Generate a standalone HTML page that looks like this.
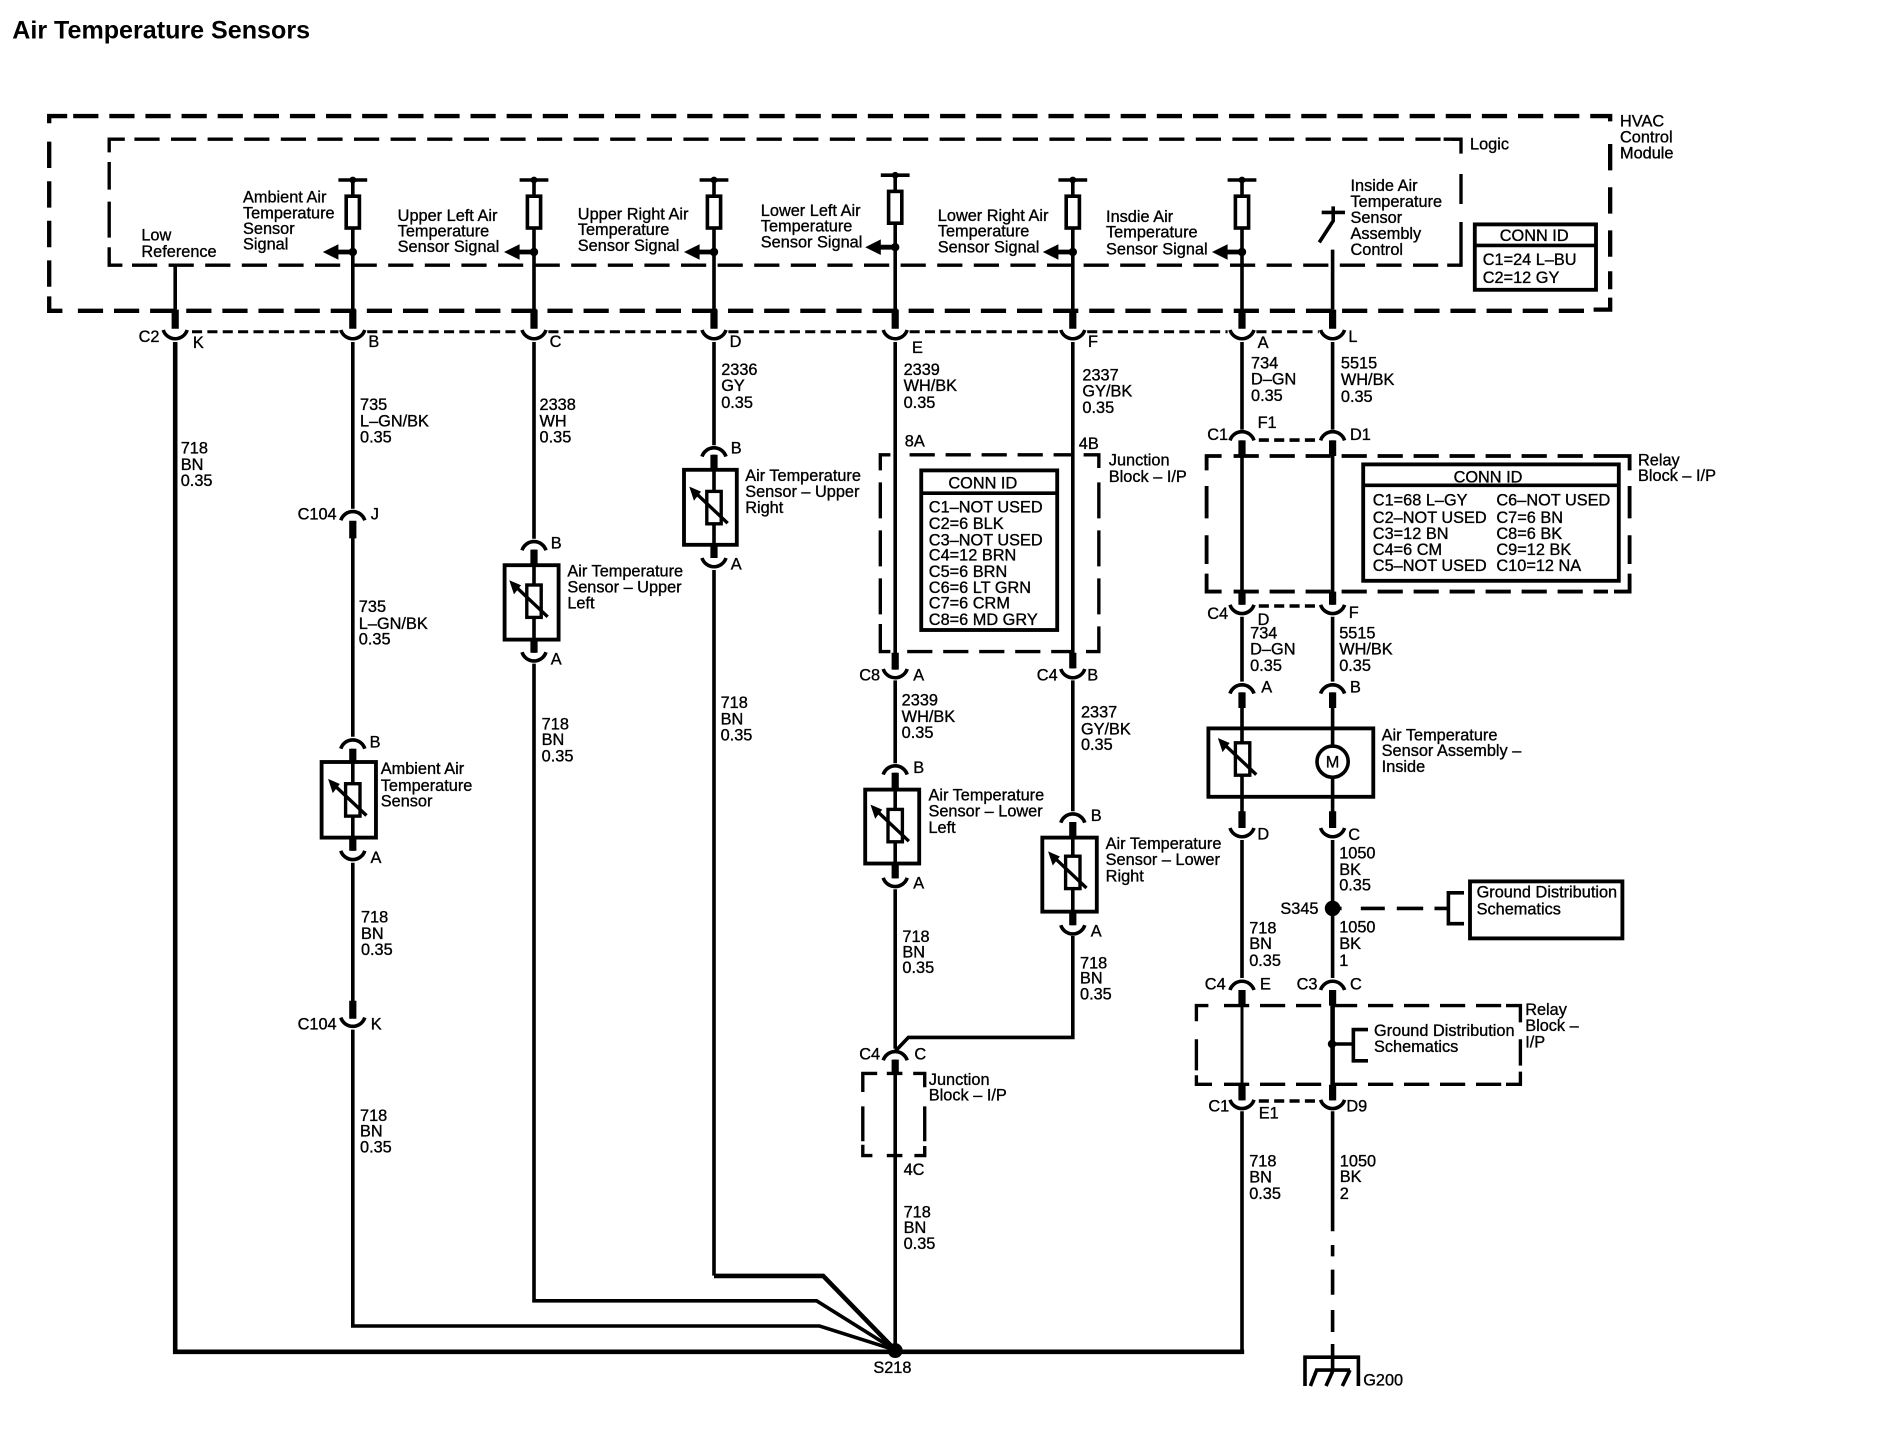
<!DOCTYPE html>
<html><head><meta charset="utf-8"><title>Air Temperature Sensors</title>
<style>
html,body{margin:0;padding:0;background:#fff}
svg{display:block}
text{font-family:"Liberation Sans",sans-serif;font-size:13.6px;fill:#000;stroke:#000;stroke-width:.28}
.w{stroke:#000;stroke-width:3;fill:none}
.s{stroke:#000;stroke-width:6;fill:none}
.b{stroke:#000;stroke-width:3.2;fill:#fff}
.o{stroke:#000;stroke-width:3.6;fill:none}
.i{stroke:#000;stroke-width:2.8;fill:none}
.r{stroke:#000;stroke-width:2.5;fill:none;stroke-dasharray:8.4 4.4}
.c{stroke:#000;stroke-width:3;fill:none}
</style></head><body>
<svg xmlns="http://www.w3.org/2000/svg" width="1884" height="1440" viewBox="0 0 1570 1200">
<defs>
<path id="u" class="c" d="M-10 0A10.5 10.5 0 0 0 10 0"/>
<path id="n" class="c" d="M-10 10A10.5 10.5 0 0 1 10 10"/>
<g id="sig"><path class="w" d="M-12 0H12"/><circle cx="0" cy="0" r="2.8"/><rect class="b" style="stroke-width:3" x="-5.5" y="13.5" width="11" height="26.5"/><circle cx="0" cy="60" r="3.5"/><path class="s" style="stroke-width:4" d="M0 60H-14"/><path d="M-25 60L-12 53.5V66.5Z"/></g>
<g id="res"><rect class="b" style="stroke-width:2.8" x="-6" y="-13.500" width="12" height="27"/><path class="w" style="stroke-width:2.8" d="M11.400 13L-14 -11"/><path d="M-20.600 -17.500L-10.800 -13.300L-16.700 -5.700Z"/></g>
</defs>
<rect width="1570" height="1200" fill="#fff"/>

<text x="10.2" y="32" style="font-size:20.9px;font-weight:bold;stroke:none">Air Temperature Sensors</text>

<!-- wires -->
<path class="w" d="M146 221V258"/>
<path class="w" style="stroke-width:3.800" d="M146 285V1126.500H1036.800"/>
<path class="w" d="M294 150V258M294 285V424M294 448V614M294 624V709M294 719V835M294 858V1105H683L746 1125"/>
<path class="w" d="M445 150V258M445 285V449M445 458V544M445 553V1084H680.500L746 1125"/>
<path class="w" d="M595 150V258M595 285V371M595 379V465M595 475V1063"/>
<path class="w" style="stroke-width:3.800" d="M595 1063.300H686L746 1125"/>
<path class="w" d="M746 146V258M746 285V558M746 567V636M746 644V732M746 741V874M746 883V1125"/>
<path class="w" d="M894 150V258M894 285V557M894 567V676M894 685V771M894 780V864.5H757L746 876"/>
<path class="w" d="M1035 150V258M1035 285V358M1035 367V504M1035 514V568M1035 577V690M1035 700V815M1035 926V1126"/>
<path class="w" style="stroke-width:2.500" d="M1035 825V917"/>
<path class="w" d="M1110.500 208V258M1110.500 285V358M1110.500 367V504M1110.500 514V568M1110.500 577V690M1110.500 700V815M1110.500 926V1026"/>
<path class="w" style="stroke-width:3.800" d="M1110.500 825V917"/>
<path class="w" d="M1110.500 1037.500V1047M1110.500 1058V1079M1110.500 1091.700V1110M1110.500 1120V1141.700"/>

<!-- stubs -->
<path class="s" d="M146 258V274M294 258V274M445 258V274M595 258V274M746 258V274M894 258V274M1035 258V274M1110.500 258V274"/>
<path class="s" d="M294 434V448.600M294 624V635M294 698V709M294 834V849"/>
<path class="s" d="M445 458V471M445 533V544M595 379V391M595 454V465"/>
<path class="s" d="M746 544V558M894 544V557M746 644V658M746 720V732M894 685V698M894 760V771M746 883V895"/>
<path class="s" d="M1035 367V380M1110.500 367V380M1035 493V504M1110.500 493V504M1035 577V590M1110.500 577V590M1035 676V690M1110.500 676V690M1035 825V838M1110.500 825V838M1035 904V917M1110.500 904V917"/>

<!-- module -->
<path class="o" stroke-dasharray="21 9.1" d="M56 96.700H41V110"/>
<path class="o" d="M41 118V140M41 151V173M41 184V206M41 217V239M41 247V259H52"/>
<path class="o" stroke-dasharray="21 9.1" d="M61 96.700H1341.800V110"/>
<path class="o" d="M1341.800 120V142M1341.800 156V178M1341.800 192V214M1341.800 226V241M1341.800 248V258H1328"/>
<path class="o" stroke-dasharray="21 9.100" d="M1320 259H60"/>

<path class="i" d="M104 116H91V127M91 135V158M91 168V198M91 206V221H102"/>
<path class="i" stroke-dasharray="21 9.500" d="M112 116H1217.500"/>
<path class="i" d="M1203 116H1217.500V128M1217.500 145V170M1217.500 185V215M1217.500 210V221H1206"/>
<path class="i" stroke-dasharray="21 9.500" d="M110 221H1204"/>

<use href="#sig" x="294" y="150"/><use href="#sig" x="445" y="150"/><use href="#sig" x="595" y="150"/>
<use href="#sig" x="746" y="146"/><use href="#sig" x="894" y="150"/><use href="#sig" x="1035" y="150"/>
<path class="w" d="M1101.400 177H1120.800M1111 172V184L1099.400 202"/>

<text x="117.800" y="200.500">Low</text><text x="117.800" y="214">Reference</text>
<text x="202.500" y="168.600">Ambient Air</text><text x="202.500" y="182">Temperature</text><text x="202.500" y="195">Sensor</text><text x="202.500" y="208">Signal</text>
<text x="331.400" y="184">Upper Left Air</text><text x="331.400" y="197">Temperature</text><text x="331.400" y="210">Sensor Signal</text>
<text x="481.500" y="183">Upper Right Air</text><text x="481.500" y="196">Temperature</text><text x="481.500" y="209">Sensor Signal</text>
<text x="634" y="180">Lower Left Air</text><text x="634" y="193">Temperature</text><text x="634" y="206.400">Sensor Signal</text>
<text x="781.500" y="184">Lower Right Air</text><text x="781.500" y="197">Temperature</text><text x="781.500" y="210.600">Sensor Signal</text>
<text x="921.700" y="185">Insdie Air</text><text x="921.700" y="198">Temperature</text><text x="921.700" y="212">Sensor Signal</text>
<text x="1125.400" y="159">Inside Air</text><text x="1125.400" y="172.300">Temperature</text><text x="1125.400" y="185.700">Sensor</text><text x="1125.400" y="199">Assembly</text><text x="1125.400" y="212.500">Control</text>
<text x="1225" y="124.700">Logic</text>
<text x="1350" y="105.400">HVAC</text><text x="1350" y="118.800">Control</text><text x="1350" y="132">Module</text>

<rect class="b" x="1229" y="187" width="101" height="54.500"/><path class="w" d="M1229 204.500H1330"/>
<text x="1278.500" y="201" text-anchor="middle">CONN ID</text>
<text x="1235.600" y="221">C1=24 L–BU</text><text x="1235.600" y="236">C2=12 GY</text>

<!-- connector row -->
<path class="r" d="M160 276.500H282M306 276.500H433M457 276.500H583M607 276.500H734M758 276.500H882M906 276.500H1023M1047 276.500H1099"/>
<use href="#u" x="146" y="275"/><use href="#u" x="294" y="275"/><use href="#u" x="445" y="275"/><use href="#u" x="595" y="275"/><use href="#u" x="746" y="275"/><use href="#u" x="894" y="275"/><use href="#u" x="1035" y="275"/><use href="#u" x="1110.500" y="275"/>
<text x="115.500" y="285">C2</text><text x="160.700" y="290">K</text><text x="307" y="289">B</text><text x="458" y="289">C</text><text x="608" y="289">D</text><text x="760" y="294">E</text><text x="906.700" y="289">F</text><text x="1048" y="290">A</text><text x="1123.600" y="285">L</text>

<!-- wire labels upper -->
<text x="150.600" y="378">718</text><text x="150.600" y="391.700">BN</text><text x="150.600" y="405">0.35</text>
<text x="300" y="341.700">735</text><text x="300" y="355.600">L–GN/BK</text><text x="300" y="368.600">0.35</text>
<text x="449.600" y="341.700">2338</text><text x="449.600" y="355.600">WH</text><text x="449.600" y="368.600">0.35</text>
<text x="601" y="312.500">2336</text><text x="601" y="326">GY</text><text x="601" y="340">0.35</text>
<text x="753" y="312.500">2339</text><text x="753" y="326">WH/BK</text><text x="753" y="340">0.35</text>
<text x="902" y="317">2337</text><text x="902" y="330.500">GY/BK</text><text x="902" y="344">0.35</text>
<text x="1042.500" y="307">734</text><text x="1042.500" y="320.500">D–GN</text><text x="1042.500" y="334">0.35</text>
<text x="1117.400" y="307">5515</text><text x="1117.400" y="321">WH/BK</text><text x="1117.400" y="335">0.35</text>

<!-- column B -->
<use href="#n" x="294" y="423.600"/><text x="248" y="433">C104</text><text x="309" y="433">J</text>
<text x="299" y="510">735</text><text x="299" y="524">L–GN/BK</text><text x="299" y="537">0.35</text>
<use href="#n" x="294" y="613.900"/><text x="308" y="623">B</text>
<rect class="b" x="268" y="635" width="45.300" height="63"/><path class="w" d="M294 635V698"/><use href="#res" x="294" y="666.600"/>
<use href="#u" x="294" y="709"/><text x="308.800" y="719">A</text>
<text x="317.300" y="645">Ambient Air</text><text x="317.300" y="659">Temperature</text><text x="317.300" y="672">Sensor</text>
<text x="300.800" y="768.600">718</text><text x="300.800" y="782.500">BN</text><text x="300.800" y="795.800">0.35</text>
<use href="#u" x="294" y="848"/><text x="248" y="858">C104</text><text x="309" y="858">K</text>
<text x="300" y="934">718</text><text x="300" y="947.200">BN</text><text x="300" y="960.600">0.35</text>

<!-- column C -->
<use href="#n" x="445" y="448.600"/><text x="459" y="457">B</text>
<rect class="b" x="420.500" y="471" width="45" height="62"/><path class="w" d="M445 471V533"/><use href="#res" x="445" y="501"/>
<use href="#u" x="445" y="543.500"/><text x="459" y="553.600">A</text>
<text x="472.800" y="480.500">Air Temperature</text><text x="472.800" y="493.900">Sensor – Upper</text><text x="472.800" y="507">Left</text>
<text x="451.400" y="608">718</text><text x="451.400" y="621">BN</text><text x="451.400" y="634.700">0.35</text>

<!-- column D -->
<use href="#n" x="595" y="370.500"/><text x="609" y="378">B</text>
<rect class="b" x="570" y="391.500" width="44" height="62.500"/><path class="w" d="M595 391.500V454"/><use href="#res" x="595" y="423"/>
<use href="#u" x="595" y="465"/><text x="609" y="474.500">A</text>
<text x="621" y="401">Air Temperature</text><text x="621" y="414">Sensor – Upper</text><text x="621" y="427.500">Right</text>
<text x="600.500" y="590">718</text><text x="600.500" y="603.600">BN</text><text x="600.500" y="617">0.35</text>

<!-- junction block upper -->
<path class="i" d="M742 379H733.600V392M733.600 402V432M733.600 442V472M733.600 482V512M733.600 520V543H742"/>
<path class="i" stroke-dasharray="21 9" d="M758 379H894"/>
<path class="i" d="M903 379H915.700V390M915.700 402V432M915.700 442V472M915.700 482V512M915.700 522V543H905"/>
<path class="i" stroke-dasharray="21 9" d="M756 543H894"/>
<text x="754" y="372">8A</text><text x="899" y="374">4B</text>
<text x="924" y="388">Junction</text><text x="924" y="401.500">Block – I/P</text>
<rect class="b" x="767.700" y="392" width="113.300" height="133"/><path class="w" d="M767.700 411H881"/>
<text x="819" y="407" text-anchor="middle">CONN ID</text>
<text x="774" y="427">C1–NOT USED</text><text x="774" y="441">C2=6 BLK</text><text x="774" y="454.500">C3–NOT USED</text><text x="774" y="467">C4=12 BRN</text><text x="774" y="481">C5=6 BRN</text><text x="774" y="494">C6=6 LT GRN</text><text x="774" y="507">C7=6 CRM</text><text x="774" y="521">C8=6 MD GRY</text>

<!-- column E -->
<use href="#u" x="746" y="557.500"/><text x="716" y="567">C8</text><text x="761" y="567">A</text>
<text x="751.400" y="588">2339</text><text x="751.400" y="601.700">WH/BK</text><text x="751.400" y="615">0.35</text>
<use href="#n" x="746" y="635.500"/><text x="761" y="644">B</text>
<rect class="b" x="721" y="658" width="45" height="61.600"/><path class="w" d="M746 658V720"/><use href="#res" x="746" y="688"/>
<use href="#u" x="746" y="731.500"/><text x="761" y="740.500">A</text>
<text x="773.700" y="667">Air Temperature</text><text x="773.700" y="680.500">Sensor – Lower</text><text x="773.700" y="694">Left</text>
<text x="752" y="785">718</text><text x="752" y="798">BN</text><text x="752" y="811">0.35</text>
<use href="#n" x="746" y="873.600"/><text x="716" y="882.800">C4</text><text x="762" y="882.800">C</text>
<path class="i" d="M731 894.500H719V910M719 922V951M719 954V963H727"/>
<path class="i" d="M739 894.500H752M761 894.500H770.600V906M770.600 922V951M770.600 955V963H762M739 963H752"/>
<text x="774" y="904">Junction</text><text x="774" y="917">Block – I/P</text>
<text x="753" y="979">4C</text>
<text x="753" y="1014.600">718</text><text x="753" y="1027.500">BN</text><text x="753" y="1041">0.35</text>
<circle cx="746" cy="1125.500" r="6.200"/>
<text x="727.800" y="1144">S218</text>

<!-- column F -->
<use href="#u" x="894" y="557.500"/><text x="864" y="567">C4</text><text x="906" y="567">B</text>
<text x="900.800" y="598">2337</text><text x="900.800" y="612">GY/BK</text><text x="900.800" y="625">0.35</text>
<use href="#n" x="894" y="675.600"/><text x="909" y="684">B</text>
<rect class="b" x="868.600" y="698" width="45.400" height="61.700"/><path class="w" d="M894 698V760"/><use href="#res" x="894" y="727"/>
<use href="#u" x="894" y="771"/><text x="909" y="780.500">A</text>
<text x="921.400" y="707.500">Air Temperature</text><text x="921.400" y="721">Sensor – Lower</text><text x="921.400" y="734.500">Right</text>
<text x="900" y="807">718</text><text x="900" y="819.500">BN</text><text x="900" y="833">0.35</text>

<!-- relay block upper -->
<use href="#n" x="1035" y="357"/><use href="#n" x="1110.500" y="357"/>
<path class="r" style="stroke-width:3" d="M1049 366.700H1098"/>
<text x="1006" y="366.700">C1</text><text x="1048" y="356.800">F1</text><text x="1125" y="366.700">D1</text>
<path class="i" style="stroke-width:3.200" d="M1018 380H1005.500V392M1005.500 405V432M1005.500 446V470M1005.500 478V493H1018"/>
<path class="i" style="stroke-width:3.200" stroke-dasharray="21 9" d="M1028 380H1345"/>
<path class="i" style="stroke-width:3.200" d="M1345 380H1358V392M1358 405V432M1358 446V470M1358 478V493H1345"/>
<path class="i" style="stroke-width:3.200" stroke-dasharray="21 9" d="M1028 493H1340"/>
<rect class="b" x="1136" y="387" width="213" height="97"/><path class="w" d="M1136 404.400H1349"/>
<text x="1240" y="402" text-anchor="middle">CONN ID</text>
<text x="1144" y="421.400">C1=68 L–GY</text><text x="1144" y="435.700">C2–NOT USED</text><text x="1144" y="449">C3=12 BN</text><text x="1144" y="462.500">C4=6 CM</text><text x="1144" y="476">C5–NOT USED</text>
<text x="1247" y="421.400">C6–NOT USED</text><text x="1247" y="435.700">C7=6 BN</text><text x="1247" y="449">C8=6 BK</text><text x="1247" y="462.500">C9=12 BK</text><text x="1247" y="476">C10=12 NA</text>
<text x="1365" y="388">Relay</text><text x="1365" y="401">Block – I/P</text>
<use href="#u" x="1035" y="504"/><use href="#u" x="1110.500" y="504"/>
<path class="r" style="stroke-width:3" d="M1049 505H1098"/>
<text x="1006" y="516">C4</text><text x="1048" y="521">D</text><text x="1124" y="515">F</text>
<text x="1041.800" y="532">734</text><text x="1041.800" y="545.500">D–GN</text><text x="1041.800" y="559">0.35</text>
<text x="1116" y="532">5515</text><text x="1116" y="545.500">WH/BK</text><text x="1116" y="559">0.35</text>

<!-- inside assembly -->
<use href="#n" x="1035" y="568"/><use href="#n" x="1110.500" y="568"/>
<text x="1051" y="577">A</text><text x="1125" y="577">B</text>
<rect class="b" x="1007" y="607" width="137.400" height="57"/>
<path class="w" d="M1035 607V664M1110.500 607V621M1110.500 648V664"/>
<use href="#res" x="1035.500" y="632.500"/>
<circle cx="1110.500" cy="634.700" r="13" fill="#fff" stroke="#000" stroke-width="3"/>
<text x="1110.500" y="639.500" text-anchor="middle">M</text>
<text x="1151.400" y="617">Air Temperature</text><text x="1151.400" y="630">Sensor Assembly –</text><text x="1151.400" y="643.500">Inside</text>
<use href="#u" x="1035" y="690"/><use href="#u" x="1110.500" y="690"/>
<text x="1047.800" y="699.500">D</text><text x="1123.500" y="700">C</text>
<text x="1116" y="715.300">1050</text><text x="1116" y="729">BK</text><text x="1116" y="742">0.35</text>
<circle cx="1110.500" cy="757" r="6.500"/>
<text x="1067" y="761.700">S345</text>
<path class="w" d="M1116 757H1118M1134 757H1154M1164 757H1186M1195.400 757H1207"/>
<path class="w" d="M1220 744H1207V769.700H1220"/>
<rect class="b" x="1225" y="734.500" width="127" height="47.500"/>
<text x="1230.500" y="748">Ground Distribution</text><text x="1230.500" y="762">Schematics</text>
<text x="1116" y="777">1050</text><text x="1116" y="791">BK</text><text x="1116" y="805">1</text>
<text x="1041" y="778">718</text><text x="1041" y="791">BN</text><text x="1041" y="805">0.35</text>
<use href="#n" x="1035" y="815"/><use href="#n" x="1110.500" y="815"/>
<text x="1004" y="824.500">C4</text><text x="1050" y="824.500">E</text><text x="1080.500" y="824.500">C3</text><text x="1125" y="824.500">C</text>

<!-- relay block lower -->
<path class="i" d="M1007 838H997V851M997 866V892M997 896V903.600H1010"/>
<path class="i" stroke-dasharray="21 9" d="M1020 838H1260"/>
<path class="i" d="M1255 838H1267V852M1267 866V888M1267 893V903.600H1255"/>
<path class="i" stroke-dasharray="21 9" d="M1020 903.600H1252"/>
<circle cx="1110" cy="870" r="3.500"/>
<path class="w" d="M1110 870H1127.800M1140 858H1127.800V884H1140"/>
<text x="1145" y="863.500">Ground Distribution</text><text x="1145" y="876.700">Schematics</text>
<text x="1271" y="846">Relay</text><text x="1271" y="859">Block –</text><text x="1271" y="873">I/P</text>
<use href="#u" x="1035" y="916.500"/><use href="#u" x="1110.500" y="916.500"/>
<path class="r" style="stroke-width:3" d="M1049 917.500H1098"/>
<text x="1007" y="926.400">C1</text><text x="1049" y="932">E1</text><text x="1122" y="926.400">D9</text>
<text x="1041" y="972">718</text><text x="1041" y="985.500">BN</text><text x="1041" y="999">0.35</text>
<text x="1116.500" y="972">1050</text><text x="1116.500" y="985">BK</text><text x="1116.500" y="999">2</text>

<!-- ground -->
<path class="w" d="M1087.500 1155V1131H1132V1155"/>
<path class="w" d="M1096 1141.700H1125M1097.200 1141.700L1092 1155M1111 1141.700L1105 1155M1125 1141.700L1118.600 1155"/>
<text x="1136" y="1154.600">G200</text>
</svg>
</body></html>
